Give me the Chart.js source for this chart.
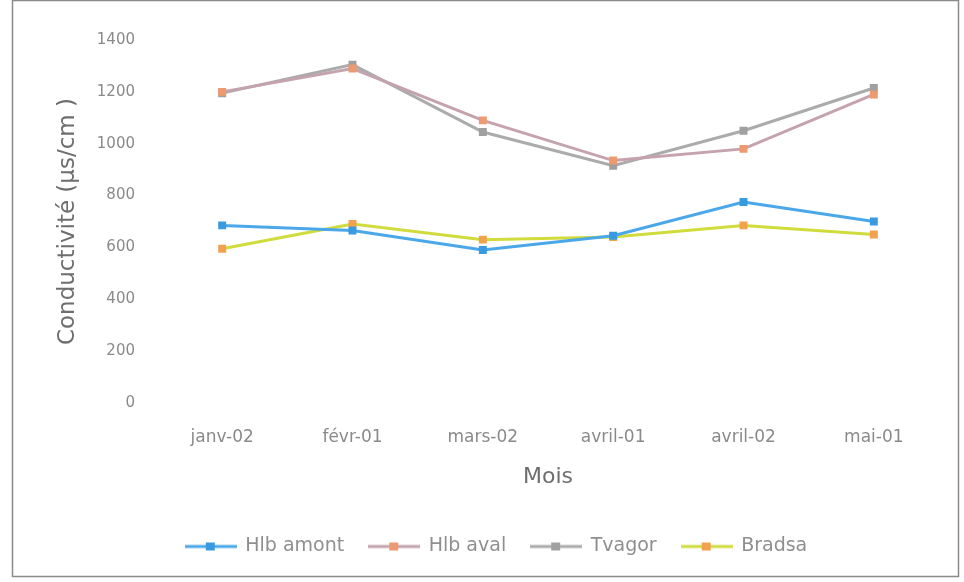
<!DOCTYPE html>
<html>
<head>
<meta charset="utf-8">
<style>
  html, body { margin: 0; padding: 0; background: #fff; }
  #wrap { position: relative; width: 964px; height: 582px; }
</style>
<script src="https://cdn.jsdelivr.net/npm/chart.js@4/dist/chart.umd.min.js"></script>
</head>
<body>
<div id="wrap"><canvas id="c" width="964" height="582"></canvas></div>
<script>
// Months sampled
const months = ['janv-02', 'févr-01', 'mars-02', 'avril-01', 'avril-02', 'mai-01'];

// Conductivity per station (µs/cm)
const hlbAmont = [685, 665, 590, 645, 775, 700];
const hlbAval  = [1200, 1290, 1090, 935, 980, 1190];
const tvagor   = [1195, 1305, 1045, 915, 1050, 1215];
const bradsa   = [595, 690, 630, 640, 685, 650];

const seriesNames = ['Hlb amont', 'Hlb aval', 'Tvagor', 'Bradsa'];
const yTicks = [0, 200, 400, 600, 800, 1000, 1200, 1400];

const FONT = '"DejaVu Sans", Verdana, sans-serif';

// Legend glyph: a short line with a marker in the middle
function legendGlyph(lineColor, markColor) {
  const cv = document.createElement('canvas');
  cv.width = 52; cv.height = 12;
  const g = cv.getContext('2d');
  g.strokeStyle = lineColor; g.lineWidth = 3;
  g.beginPath(); g.moveTo(0, 6); g.lineTo(52, 6); g.stroke();
  g.fillStyle = markColor;
  g.fillRect(21, 2, 9, 8);
  return cv;
}

const styles = [
  { line: '#4aa8e8', mark: '#3a9ae0' },
  { line: '#c4a3ad', mark: '#ee9a70' },
  { line: '#ababab', mark: '#a0a0a0' },
  { line: '#cfdc3c', mark: '#f2a24e' }
];
const values = [hlbAmont, hlbAval, tvagor, bradsa];

const datasets = values.map((v, i) => ({
  label: seriesNames[i],
  data: v,
  borderColor: styles[i].line,
  backgroundColor: styles[i].mark,
  pointBackgroundColor: styles[i].mark,
  pointBorderColor: styles[i].mark,
  pointRadius: 3.5,
  pointStyle: 'rect',
  legendGlyph: legendGlyph(styles[i].line, styles[i].mark),
  borderWidth: 3,
  tension: 0
}));

// Outer frame around the whole chart
const framePlugin = {
  id: 'frame',
  beforeDraw(chart) {
    const ctx = chart.ctx;
    ctx.save();
    ctx.strokeStyle = '#8a8a8a';
    ctx.lineWidth = 1.5;
    ctx.strokeRect(12.5, 0.5, 946, 576);
    ctx.restore();
  }
};

new Chart(document.getElementById('c'), {
  type: 'line',
  data: { labels: months, datasets },
  plugins: [framePlugin],
  options: {
    responsive: false,
    animation: false,
    layout: { padding: { left: 54, right: 25, top: 40, bottom: 16 } },
    plugins: {
      tooltip: { enabled: false },
      legend: {
        position: 'bottom',
        labels: {
          usePointStyle: true,
          pointStyleWidth: 50,
          boxHeight: 12,
          font: { family: FONT, size: 19 },
          color: '#8f8f8f',
          padding: 25,
          generateLabels(chart) {
            return chart.data.datasets.map((d, i) => ({
              text: d.label,
              pointStyle: d.legendGlyph,
              fontColor: '#8f8f8f',
              strokeStyle: d.borderColor,
              fillStyle: d.backgroundColor,
              lineWidth: 0,
              hidden: false,
              datasetIndex: i
            }));
          }
        }
      }
    },
    scales: {
      x: {
        offset: true,
        grid: { display: false, drawTicks: false, offset: true },
        border: { display: false },
        ticks: { font: { family: FONT, size: 17 }, color: '#8a8a8a', padding: 24, maxRotation: 0 },
        title: { display: true, text: 'Mois', font: { family: FONT, size: 22 }, color: '#6e6e6e', padding: { top: 18, bottom: 22 } },
        afterFit(scale) { scale.height = 109; }
      },
      y: {
        min: 0, max: 1400,
        grid: { display: false, drawTicks: false },
        border: { display: false },
        afterBuildTicks(scale) { scale.ticks = yTicks.map(v => ({ value: v })); },
        ticks: {
          font: { family: FONT, size: 15 }, color: '#8a8a8a', padding: 22,
          callback: v => String(v)
        },
        title: { display: true, text: 'Conductivité (µs/cm )', font: { family: FONT, size: 23 }, color: '#6e6e6e', padding: { top: 0, bottom: 8 } },
        afterFit(scale) { scale.width = 103; }
      }
    }
  }
});
</script>
</body>
</html>
